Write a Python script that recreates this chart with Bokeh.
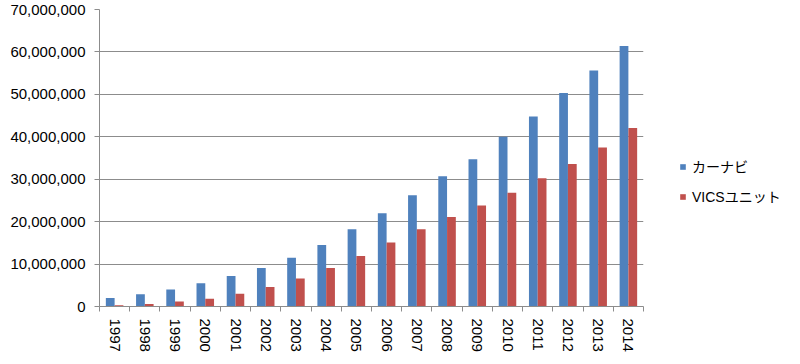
from bokeh.plotting import figure
from bokeh.models import (ColumnDataSource, FixedTicker, NumeralTickFormatter,
                          Legend, LegendItem, Range1d)
from bokeh.embed import file_html
from bokeh.resources import INLINE

years = ["1997", "1998", "1999", "2000", "2001", "2002", "2003", "2004", "2005",
         "2006", "2007", "2008", "2009", "2010", "2011", "2012", "2013", "2014"]
carnavi = [2.0e6, 2.9e6, 4.0e6, 5.5e6, 7.2e6, 9.1e6, 11.5e6, 14.5e6, 18.2e6,
           22.0e6, 26.2e6, 30.7e6, 34.7e6, 40.0e6, 44.8e6, 50.3e6, 55.6e6, 61.4e6]
vics = [0.3e6, 0.6e6, 1.2e6, 1.8e6, 3.0e6, 4.6e6, 6.6e6, 9.1e6, 11.9e6,
        15.1e6, 18.2e6, 21.1e6, 23.8e6, 26.8e6, 30.2e6, 33.6e6, 37.5e6, 42.1e6]
series_names = ["カーナビ", "VICSユニット"]
colors = ["#4F81BD", "#C0504D"]
y_ticks = [0, 10e6, 20e6, 30e6, 40e6, 50e6, 60e6, 70e6]

FONT = "Liberation Sans, Arial, 'Noto Sans CJK JP', sans-serif"

idx = list(range(len(years)))
bw = 0.29
src = ColumnDataSource(dict(
    xb=[i - bw / 2 for i in idx],
    xr=[i + bw / 2 for i in idx],
    carnavi=carnavi,
    vics=vics,
))

p = figure(frame_width=544, frame_height=297, output_backend="svg", toolbar_location=None,
           x_range=Range1d(-0.5, len(years) - 0.5), y_range=Range1d(0, 70e6),
           min_border_left=99, min_border_top=9, min_border_bottom=40,
           min_border_right=0)
p.outline_line_color = None
p.background_fill_color = "white"

r1 = p.vbar(x="xb", top="carnavi", width=bw, source=src, color=colors[0], line_color=None)
r2 = p.vbar(x="xr", top="vics", width=bw, source=src, color=colors[1], line_color=None)

# axes
p.xgrid.grid_line_color = None
p.ygrid.grid_line_color = "#8C8C8C"
p.ygrid.grid_line_width = 1

p.yaxis.ticker = FixedTicker(ticks=y_ticks)
p.yaxis.formatter = NumeralTickFormatter(format="0,0")
p.yaxis.axis_line_color = "#8C8C8C"
p.yaxis.major_tick_line_color = "#8C8C8C"
p.yaxis.major_tick_out = 5
p.yaxis.major_tick_in = 0
p.yaxis.minor_tick_line_color = None
p.yaxis.major_label_text_font = FONT
p.yaxis.major_label_text_font_size = "15px"
p.yaxis.major_label_text_color = "#000000"
p.yaxis.major_label_standoff = 9

p.xaxis.ticker = FixedTicker(ticks=idx, minor_ticks=[i - 0.5 for i in idx] + [len(idx) - 0.5])
p.xaxis.major_label_overrides = {i: y for i, y in zip(idx, years)}
p.xaxis.axis_line_color = "#8C8C8C"
p.xaxis.major_tick_line_color = None
p.xaxis.major_tick_out = 0
p.xaxis.major_tick_in = 0
p.xaxis.minor_tick_line_color = "#8C8C8C"
p.xaxis.minor_tick_out = 5
p.xaxis.minor_tick_in = 0
p.xaxis.major_label_orientation = "vertical"
p.xaxis.major_label_text_font = FONT
p.xaxis.major_label_text_font_size = "15px"
p.xaxis.major_label_text_color = "#000000"
p.xaxis.major_label_standoff = 7

legend = Legend(items=[LegendItem(label=series_names[0], renderers=[r1]),
                       LegendItem(label=series_names[1], renderers=[r2])],
                glyph_width=7, glyph_height=7, label_height=14, spacing=10,
                label_standoff=6, border_line_color=None, background_fill_alpha=0,
                label_text_font=FONT, label_text_font_size="14px",
                label_text_color="#000000", padding=0, margin=0,
                location=(36, 100))
p.add_layout(legend, "right")

with open("out.html", "w") as f:
    f.write(file_html(p, INLINE))
